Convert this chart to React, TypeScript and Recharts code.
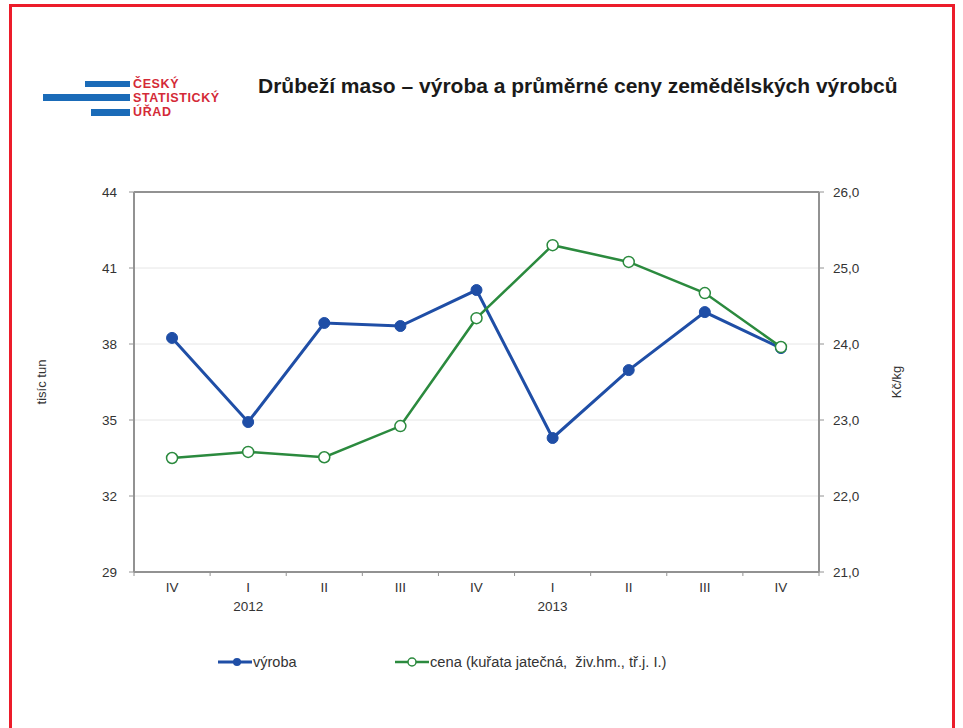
import React from "react";
import {
  LineChart,
  Line,
  XAxis,
  YAxis,
  CartesianGrid,
  ReferenceLine,
} from "recharts";

const quarters = ["IV", "I", "II", "III", "IV", "I", "II", "III", "IV"];
const years = ["", "2012", "", "", "", "2013", "", "", ""];
const vyroba = [38.24, 34.92, 38.83, 38.71, 40.13, 34.29, 36.97, 39.26, 37.84];
const cena = [22.5, 22.58, 22.51, 22.92, 24.34, 25.3, 25.08, 24.67, 23.96];
const leftTicks = [29, 32, 35, 38, 41, 44];
const rightTicks = [21, 22, 23, 24, 25, 26];

const seriesNames = {
  vyroba: "výroba",
  cena: "cena (kuřata jatečná,  živ.hm., tř.j. I.)",
};
const title = "Drůbeží maso – výroba a průměrné ceny zemědělských výrobců";
const logoLines = ["ČESKÝ", "STATISTICKÝ", "ÚŘAD"];

const data = quarters.map((q, i) => ({
  key: `${i}`,
  q,
  year: years[i],
  vyroba: vyroba[i],
  cena: cena[i],
}));

const W = 963;
const H = 728;
const M = { top: 192, left: 74, right: 84, bottom: 116 };
const YW = 60;
const PLOT_W = W - M.left - M.right - 2 * YW;
const BAND = PLOT_W / quarters.length;

const FONT = "'Liberation Sans', Arial, sans-serif";
const BLUE = "#1f4ea6";
const GREEN = "#2b8a3e";
const AXIS = "#929292";
const TXT = "#333333";
const TICK_FS = 13.5;

const XTick = (props: any) => {
  const { x, y, payload, index } = props;
  const i = payload?.index ?? index;
  return (
    <g>
      <line x1={x - BAND / 2} x2={x - BAND / 2} y1={y} y2={y + 4} stroke={AXIS} strokeWidth={1} />
      {i === quarters.length - 1 && (
        <line x1={x + BAND / 2} x2={x + BAND / 2} y1={y} y2={y + 4} stroke={AXIS} strokeWidth={1} />
      )}
      <text x={x} y={y + 20} textAnchor="middle" fontSize={TICK_FS} fill={TXT} fontFamily={FONT}>
        {quarters[i]}
      </text>
      {years[i] && (
        <text x={x} y={y + 39} textAnchor="middle" fontSize={TICK_FS} fill={TXT} fontFamily={FONT}>
          {years[i]}
        </text>
      )}
    </g>
  );
};

const RightTick = (props: any) => {
  const { x, y, payload } = props;
  return (
    <text x={x} y={y + 5} textAnchor="start" fontSize={TICK_FS} fill={TXT} fontFamily={FONT}>
      {Number(payload.value).toFixed(1).replace(".", ",")}
    </text>
  );
};

const LeftTick = (props: any) => {
  const { x, y, payload } = props;
  return (
    <text x={x} y={y + 5} textAnchor="end" fontSize={TICK_FS} fill={TXT} fontFamily={FONT}>
      {payload.value}
    </text>
  );
};

const GreenDot = (props: any) => {
  const { cx, cy } = props;
  if (cx == null || cy == null) return null;
  return <circle cx={cx} cy={cy} r={5.5} fill="#ffffff" stroke={GREEN} strokeWidth={1.5} />;
};

export default function App() {
  return (
    <div
      style={{
        position: "absolute",
        left: 0,
        top: 0,
        width: W,
        height: H,
        background: "#ffffff",
        overflow: "hidden",
        fontFamily: FONT,
      }}
    >
      {/* red frame */}
      <div
        style={{
          position: "absolute",
          left: 9,
          top: 4,
          width: 940,
          height: 760,
          borderLeft: "3px solid #ec1c2a",
          borderTop: "3px solid #ec1c2a",
          borderRight: "3px solid #ec1c2a",
        }}
      />
      {/* logo */}
      <div style={{ position: "absolute", left: 85, top: 81, width: 45, height: 6, background: "#1a6bb8" }} />
      <div style={{ position: "absolute", left: 43, top: 94, width: 87, height: 7, background: "#1a6bb8" }} />
      <div style={{ position: "absolute", left: 91, top: 109, width: 39, height: 7, background: "#1a6bb8" }} />
      {logoLines.map((t, i) => (
        <div
          key={t}
          style={{
            position: "absolute",
            left: 133,
            top: 77 + i * 14,
            fontSize: 12.5,
            lineHeight: "14px",
            fontWeight: 700,
            color: "#d42a37",
            fontFamily: FONT,
            letterSpacing: 0.6,
            whiteSpace: "nowrap",
          }}
        >
          {t}
        </div>
      ))}
      {/* title */}
      <div
        style={{
          position: "absolute",
          left: 258,
          top: 74,
          fontSize: 21,
          fontWeight: 700,
          color: "#1a1a1a",
          whiteSpace: "nowrap",
        }}
      >
        {title}
      </div>

      <div style={{ position: "absolute", left: 0, top: 0 }}>
        <LineChart width={W} height={H} data={data} margin={M}>
          <CartesianGrid vertical={false} stroke="#e6e6e6" strokeWidth={1} yAxisId="left" />
          <XAxis
            dataKey="key"
            tick={<XTick />}
            tickLine={false}
            tickSize={0}
            tickMargin={0}
            interval={0}
            padding={{ left: BAND / 2, right: BAND / 2 }}
            axisLine={{ stroke: AXIS, strokeWidth: 2 }}
            height={40}
          />
          <YAxis
            yAxisId="left"
            orientation="left"
            domain={[29, 44]}
            ticks={leftTicks}
            width={YW}
            tick={<LeftTick />}
            tickSize={5}
            tickMargin={12}
            tickLine={{ stroke: AXIS }}
            axisLine={{ stroke: AXIS, strokeWidth: 2 }}
            allowDataOverflow
            label={(p: any) => {
              const vb = p.viewBox || {};
              const cx = 46;
              const cy = (vb.y ?? M.top) + (vb.height ?? 380) / 2;
              return (
                <text
                  x={cx}
                  y={cy}
                  transform={`rotate(-90 ${cx} ${cy})`}
                  textAnchor="middle"
                  fontSize={13}
                  fill={TXT}
                  fontFamily={FONT}
                >
                  tisíc tun
                </text>
              );
            }}
          />
          <YAxis
            yAxisId="right"
            orientation="right"
            domain={[21, 26]}
            ticks={rightTicks}
            width={YW}
            tick={<RightTick />}
            tickSize={5}
            tickMargin={9}
            tickLine={{ stroke: AXIS }}
            axisLine={{ stroke: AXIS, strokeWidth: 2 }}
            allowDataOverflow
            label={(p: any) => {
              const vb = p.viewBox || {};
              const cx = 901;
              const cy = (vb.y ?? M.top) + (vb.height ?? 380) / 2;
              return (
                <text
                  x={cx}
                  y={cy}
                  transform={`rotate(-90 ${cx} ${cy})`}
                  textAnchor="middle"
                  fontSize={13}
                  fill={TXT}
                  fontFamily={FONT}
                >
                  Kč/kg
                </text>
              );
            }}
          />
          <ReferenceLine yAxisId="left" y={44} stroke={AXIS} strokeWidth={2} />
          <Line
            yAxisId="left"
            type="linear"
            dataKey="vyroba"
            name={seriesNames.vyroba}
            stroke={BLUE}
            strokeWidth={3}
            dot={{ r: 5.5, fill: BLUE, stroke: BLUE, strokeWidth: 1 }}
            activeDot={false}
            isAnimationActive={false}
          />
          <Line
            yAxisId="right"
            type="linear"
            dataKey="cena"
            name={seriesNames.cena}
            stroke={GREEN}
            strokeWidth={2.5}
            dot={<GreenDot />}
            activeDot={false}
            isAnimationActive={false}
          />
        </LineChart>
      </div>

      {/* legend */}
      <svg style={{ position: "absolute", left: 0, top: 650 }} width={W} height={26}>
        <line x1={218} x2={252} y1={12} y2={12} stroke={BLUE} strokeWidth={3} />
        <circle cx={237} cy={12} r={4} fill={BLUE} />
        <text x={253} y={17} fontSize={14.5} fill={TXT} fontFamily={FONT}>
          {seriesNames.vyroba}
        </text>
        <line x1={395} x2={429} y1={12} y2={12} stroke={GREEN} strokeWidth={2.5} />
        <circle cx={412} cy={12} r={4} fill="#ffffff" stroke={GREEN} strokeWidth={1.5} />
        <text x={430} y={17} fontSize={14.7} fill={TXT} fontFamily={FONT} style={{ whiteSpace: "pre" }}>
          {seriesNames.cena}
        </text>
      </svg>
    </div>
  );
}
